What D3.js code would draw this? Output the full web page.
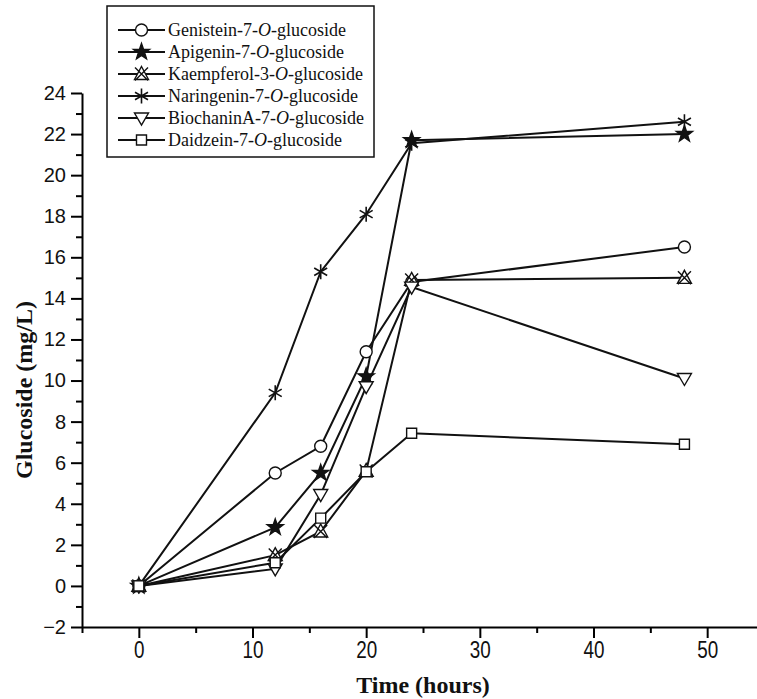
<!DOCTYPE html>
<html>
<head>
<meta charset="utf-8">
<script src="https://cdn.jsdelivr.net/npm/d3@7"></script>
<style>
  body { margin: 0; background: #fff; }
  svg { display: block; }
</style>
</head>
<body>
<div id="chart"></div>
<script>
// sampling times (hours)
const times = [0, 12, 16, 20, 24, 48]

// glucoside concentration (mg/L)
const genistein = [0, 5.5, 6.8, 11.4, 14.8, 16.5]
const apigenin = [0, 2.85, 5.5, 10.2, 21.7, 22.0]
const kaempferol = [0, 1.5, 2.65, 5.6, 14.9, 15.0]
const naringenin = [0, 9.4, 15.3, 18.1, 21.55, 22.6]
const biochanin = [0, 0.83, 4.45, 9.7, 14.55, 10.1]
const daidzein = [0, 1.13, 3.3, 5.56, 7.43, 6.9]

const seriesNames = [
  ['Genistein-7-', '-glucoside'],
  ['Apigenin-7-', '-glucoside'],
  ['Kaempferol-3-', '-glucoside'],
  ['Naringenin-7-', '-glucoside'],
  ['BiochaninA-7-', '-glucoside'],
  ['Daidzein-7-', '-glucoside'],
]
const seriesValues = [genistein, apigenin, kaempferol, naringenin, biochanin, daidzein]
const seriesMarkers = ['circle', 'star', 'triangleX', 'asterisk', 'triangleDown', 'square']

const yMajorTicks = d3.range(-2, 25, 2)
const yMinorTicks = d3.range(-1, 24, 2)
const xMajorTicks = [0, 10, 20, 30, 40, 50]
const xMinorTicks = [-5, 5, 15, 25, 35, 45, 55]

const width = 757
const height = 699

const svg = d3
  .select('#chart')
  .append('svg')
  .attr('width', width)
  .attr('height', height)
  .attr('viewBox', `0 0 ${width} ${height}`)

const x = d3.scaleLinear().domain([-5, 55]).range([82, 764])
const y = d3.scaleLinear().domain([-2, 24]).range([627, 93])

// marker shapes, centred at 0,0
function markerPath(type) {
  const p = d3.path()
  if (type === 'circle') {
    p.arc(0, 0, 6, 0, Math.PI * 2)
  } else if (type === 'square') {
    p.rect(-5, -5, 10, 10)
  } else if (type === 'triangleDown') {
    p.moveTo(-7, -5)
    p.lineTo(7, -5)
    p.lineTo(0, 7)
    p.closePath()
  } else if (type === 'triangleX') {
    p.moveTo(0, -7.5)
    p.lineTo(7, 5.5)
    p.lineTo(-7, 5.5)
    p.closePath()
    p.moveTo(-6.5, -6.5)
    p.lineTo(6.5, 6.5)
    p.moveTo(6.5, -6.5)
    p.lineTo(-6.5, 6.5)
  } else if (type === 'star') {
    for (let i = 0; i < 10; i++) {
      const r = i % 2 === 0 ? 8.5 : 3.4
      const a = -Math.PI / 2 + (i * Math.PI) / 5
      if (i === 0) p.moveTo(r * Math.cos(a), r * Math.sin(a))
      else p.lineTo(r * Math.cos(a), r * Math.sin(a))
    }
    p.closePath()
  } else if (type === 'asterisk') {
    ;[90, 30, 150].forEach(deg => {
      const a = (deg * Math.PI) / 180
      p.moveTo(7.5 * Math.cos(a), 7.5 * Math.sin(a))
      p.lineTo(-7.5 * Math.cos(a), -7.5 * Math.sin(a))
    })
  }
  return p.toString()
}

function styleMarker(sel, type) {
  sel
    .attr('d', markerPath(type))
    .attr('fill', type === 'star' ? '#111' : type === 'asterisk' ? 'none' : '#fff')
    .attr('stroke', '#111')
    .attr('stroke-width', type === 'asterisk' ? 1.6 : 1.4)
}

// axes
const yAxisG = svg.append('g').attr('transform', `translate(${x(-5)},0)`)
yAxisG
  .call(d3.axisLeft(y).tickValues(yMajorTicks).tickSize(11).tickSizeOuter(0).tickPadding(5))
  .call(g => g.select('.domain').attr('stroke-width', 2))
  .call(g => g.selectAll('.tick line').attr('stroke-width', 2))
  .call(g =>
    g
      .selectAll('.tick text')
      .attr('font-family', 'Liberation Sans, Arial, sans-serif')
      .attr('font-size', 20)
      .attr('fill', '#111'),
  )
yAxisG
  .append('g')
  .call(d3.axisLeft(y).tickValues(yMinorTicks).tickSize(6).tickFormat(''))
  .call(g => g.select('.domain').remove())
  .call(g => g.selectAll('.tick line').attr('stroke-width', 2))

const xAxisG = svg.append('g').attr('transform', `translate(0,${y(-2)})`)
xAxisG
  .call(d3.axisBottom(x).tickValues(xMajorTicks).tickSize(11).tickSizeOuter(0).tickPadding(4))
  .call(g => g.select('.domain').attr('stroke-width', 2))
  .call(g => g.selectAll('.tick line').attr('stroke-width', 2))
  .call(g =>
    g
      .selectAll('.tick text')
      .attr('font-family', 'Liberation Sans, Arial, sans-serif')
      .attr('font-size', 23)
      .attr('transform', 'scale(0.82,1)')
      .attr('fill', '#111'),
  )
xAxisG
  .append('g')
  .call(d3.axisBottom(x).tickValues(xMinorTicks).tickSize(6).tickFormat(''))
  .call(g => g.select('.domain').remove())
  .call(g => g.selectAll('.tick line').attr('stroke-width', 2))

// axis titles
svg
  .append('text')
  .attr('transform', `translate(32,${(y(-2) + y(24)) / 2 + 30}) rotate(-90)`)
  .attr('text-anchor', 'middle')
  .attr('font-family', 'Liberation Serif, Times New Roman, serif')
  .attr('font-weight', 'bold')
  .attr('font-size', 24)
  .attr('fill', '#111')
  .text('Glucoside (mg/L)')

svg
  .append('text')
  .attr('x', 423)
  .attr('y', 693)
  .attr('text-anchor', 'middle')
  .attr('font-family', 'Liberation Serif, Times New Roman, serif')
  .attr('font-weight', 'bold')
  .attr('font-size', 24)
  .attr('fill', '#111')
  .text('Time (hours)')

// series
const line = d3
  .line()
  .x((d, i) => x(times[i]))
  .y(d => y(d))

const seriesG = svg.append('g').attr('class', 'series')
seriesValues.forEach(vals => {
  seriesG
    .append('path')
    .datum(vals)
    .attr('d', line)
    .attr('fill', 'none')
    .attr('stroke', '#111')
    .attr('stroke-width', 2)
})
seriesValues.forEach((vals, s) => {
  seriesG
    .append('g')
    .selectAll('path')
    .data(vals)
    .join('path')
    .attr('transform', (d, i) => `translate(${x(times[i])},${y(d)})`)
    .call(sel => styleMarker(sel, seriesMarkers[s]))
})

// legend
const legend = svg.append('g').attr('class', 'legend')
legend
  .append('rect')
  .attr('x', 107)
  .attr('y', 6)
  .attr('width', 267)
  .attr('height', 151)
  .attr('fill', '#fff')
  .attr('stroke', '#111')
  .attr('stroke-width', 1.5)

seriesNames.forEach((name, s) => {
  const cy = 30 + s * 22
  const row = legend.append('g').attr('transform', `translate(0,${cy})`)
  row
    .append('line')
    .attr('x1', 118)
    .attr('x2', 165)
    .attr('stroke', '#111')
    .attr('stroke-width', 2)
  row
    .append('path')
    .attr('transform', 'translate(141.5,0)')
    .call(sel => styleMarker(sel, seriesMarkers[s]))
  const t = row
    .append('text')
    .attr('x', 168)
    .attr('y', 6)
    .attr('font-family', 'Liberation Serif, Times New Roman, serif')
    .attr('font-size', 18)
    .attr('fill', '#111')
  t.append('tspan').text(name[0])
  t.append('tspan').attr('font-style', 'italic').text('O')
  t.append('tspan').text(name[1])
})
</script>
</body>
</html>
